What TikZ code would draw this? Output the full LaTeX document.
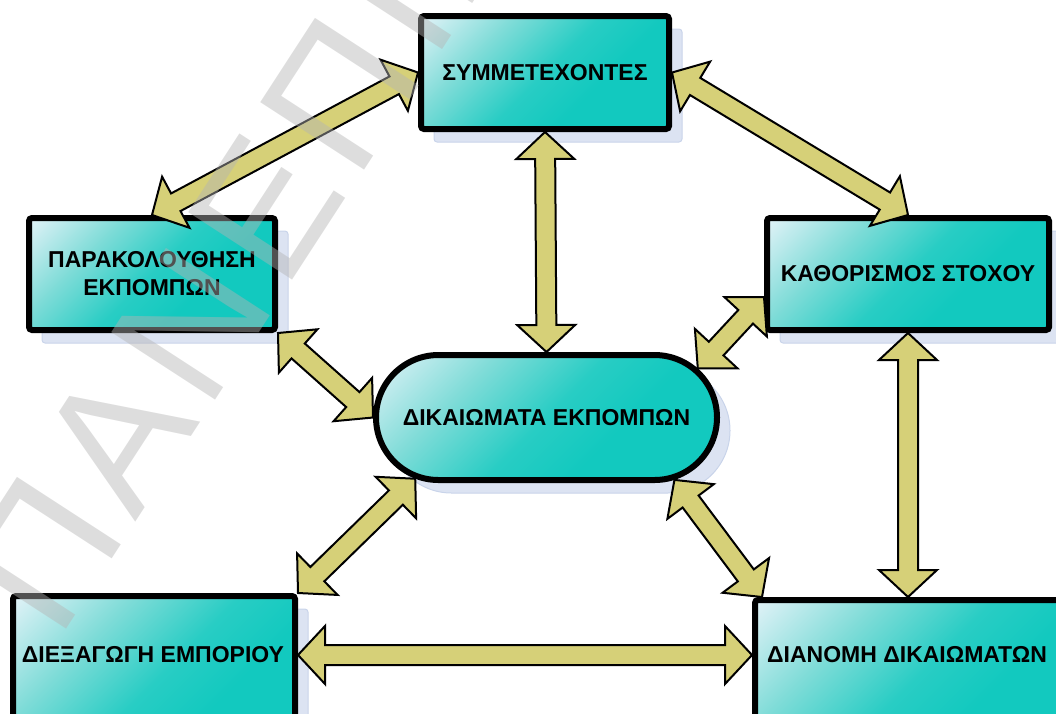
\documentclass[tikz,border=0pt]{standalone}
\usepackage{fontspec}
\setmainfont{Liberation Sans}
\usetikzlibrary{calc,shadows,shapes.misc}
\definecolor{tlight}{HTML}{E0F2F7}
\definecolor{tmid}{HTML}{80DCD8}
\definecolor{tmain}{HTML}{12C9BF}
\colorlet{tmid2}{tmain!80!tmid}
\definecolor{khaki}{HTML}{D6D078}
\definecolor{shad}{HTML}{DCE3F2}
\definecolor{shadedge}{HTML}{C9D4EA}
\definecolor{wmgray}{HTML}{B4B4B4}
\pgfdeclarehorizontalshading{tealsh}{100bp}{color(0bp)=(tlight); color(15bp)=(tlight); color(33bp)=(tmid); color(50bp)=(tmid2); color(63bp)=(tmain); color(100bp)=(tmain)}
\tikzset{
  box/.style={draw=black, line width=6pt, rounded corners=3pt, shade, shading=tealsh,
    shading angle=-45, outer sep=3pt, inner sep=0pt, align=center,
    font=\fontsize{23}{28}\selectfont\bfseries, text=black,
    general shadow={shadow xshift=13pt, shadow yshift=-13pt, fill=shad, draw=shadedge, line width=1pt}},
  boxtext/.style={inner sep=0pt, font=\fontsize{23}{28}\selectfont\bfseries, text=black},
  arrowbody/.style={draw=black, fill=khaki, line width=2pt, line join=miter},
  wmark/.style={inner sep=0pt, font=\fontsize{180}{180}\selectfont, text=wmgray, text opacity=0.45}
}
\newcommand\dblarr[2]{%
  \draw[arrowbody] (#1)
   -- ($(#1)!27pt!(#2)!29pt!90:(#2)$)
   -- ($(#1)!27pt!(#2)!10pt!90:(#2)$)
   -- ($(#2)!27pt!(#1)!10pt!-90:(#1)$)
   -- ($(#2)!27pt!(#1)!29pt!-90:(#1)$)
   -- (#2)
   -- ($(#2)!27pt!(#1)!29pt!90:(#1)$)
   -- ($(#2)!27pt!(#1)!10pt!90:(#1)$)
   -- ($(#1)!27pt!(#2)!10pt!-90:(#2)$)
   -- ($(#1)!27pt!(#2)!29pt!-90:(#2)$)
   -- cycle;}
\newcommand\wsp{\hspace{12pt}}
\begin{document}
\begin{tikzpicture}[x=1pt,y=-1pt]
\useasboundingbox (0,0) rectangle (1056,713);
\clip (0,0) rectangle (1056,713);
% boxes
\node[box, minimum width=248pt, minimum height=113pt] (sym) at (545,72.5) {ΣΥΜΜΕΤΕΧΟΝΤΕΣ};
\node[box, minimum width=246pt, minimum height=112pt] (par) at (152,274) {ΠΑΡΑΚΟΛΟΥΘΗΣΗ\\ΕΚΠΟΜΠΩΝ};
\node[box, minimum width=282pt, minimum height=112pt] (kath) at (908,274) {ΚΑΘΟΡΙΣΜΟΣ ΣΤΟΧΟΥ};
\node[box, rounded rectangle, sharp corners, minimum width=341pt, minimum height=125pt] (dik) at (546.5,417.5) {ΔΙΚΑΙΩΜΑΤΑ ΕΚΠΟΜΠΩΝ};
\node[box, minimum width=282pt, minimum height=174pt] (die) at (154,683) {};
\node[box, minimum width=306pt, minimum height=174pt] (dian) at (908,687) {};
\node[boxtext] (dietext) at (153,655) {ΔΙΕΞΑΓΩΓΗ ΕΜΠΟΡΙΟΥ};
\node[boxtext] (diantext) at (907,655) {ΔΙΑΝΟΜΗ ΔΙΚΑΙΩΜΑΤΩΝ};
% connector ends
\coordinate (k5) at ([yshift=-23pt]kath.west);
\coordinate (n7) at ([xshift=10pt]dian.north west);
\coordinate (e9) at (die.east |- dietext.center);
\coordinate (w9) at (dian.west |- diantext.center);
\coordinate (d18) at (dik.18);
\coordinate (d205) at (dik.205);
\coordinate (d334) at (dik.334);
% arrows
\dblarr{par.north}{sym.west}
\dblarr{sym.south}{dik.north}
\dblarr{sym.east}{kath.north}
\dblarr{par.south east}{dik.west}
\dblarr{k5}{d18}
\dblarr{die.north east}{d205}
\dblarr{d334}{n7}
\dblarr{kath.south}{dian.north}
\dblarr{e9}{w9}
% watermark
\node[wmark, rotate=57, anchor=base west] (wm) at (58,642) {Π\wsp Α\wsp Ν\wsp Ε\wsp Π\wsp Ι\wsp Σ\wsp Τ\wsp Η\wsp Μ\wsp Ι\wsp Ο};
\end{tikzpicture}
\end{document}
